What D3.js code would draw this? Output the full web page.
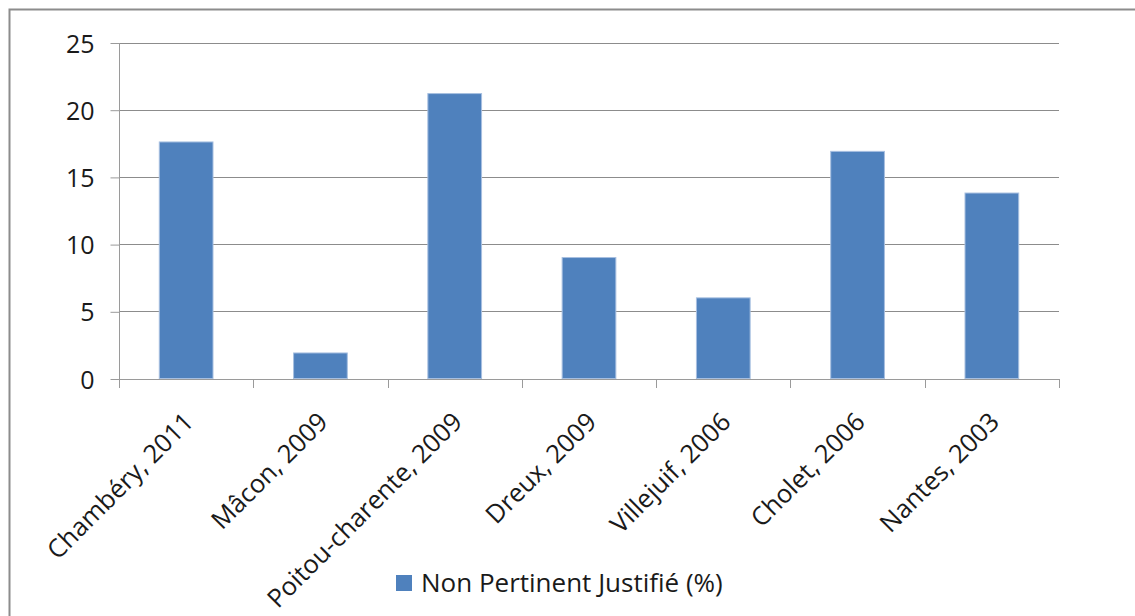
<!DOCTYPE html>
<html>
<head>
<meta charset="utf-8">
<script src="https://cdn.jsdelivr.net/npm/d3@7"></script>
<style>
  html, body { margin: 0; padding: 0; background: #fff; }
  svg { display: block; font-family: "Open Sans", Lato, sans-serif; }
</style>
</head>
<body>
<script>
// Survey sites and share of "non pertinent justifié" cases (%)
const categories = [
  "Chambéry, 2011",
  "Mâcon, 2009",
  "Poitou-charente, 2009",
  "Dreux, 2009",
  "Villejuif, 2006",
  "Cholet, 2006",
  "Nantes, 2003"
];
const values = [17.6, 1.9, 21.2, 9.0, 6.0, 16.9, 13.8];
const yTickValues = [0, 5, 10, 15, 20, 25];
const seriesName = "Non Pertinent Justifié (%)";

const W = 1135, H = 616;
const plot = { left: 119, right: 1059, top: 42.5, bottom: 378.5 };
const textColor = "#1a1a1a";

const svg = d3.select("body").append("svg")
  .attr("width", W).attr("height", H);

// chart frame
svg.append("rect")
  .attr("x", 9.5).attr("y", 9.5)
  .attr("width", W + 20).attr("height", H + 20)
  .attr("fill", "#fff")
  .attr("stroke", "#8c8c8c").attr("stroke-width", 2);

const x = d3.scaleBand()
  .domain(categories)
  .range([plot.left, plot.right])
  .paddingInner(0.6)
  .paddingOuter(0.3);

const y = d3.scaleLinear()
  .domain([0, 25])
  .range([plot.bottom, plot.top]);

// horizontal gridlines
svg.append("g")
  .selectAll("line")
  .data(yTickValues.filter(v => v > 0))
  .join("line")
  .attr("x1", plot.left).attr("x2", plot.right)
  .attr("y1", d => Math.round(y(d)) + 0.5)
  .attr("y2", d => Math.round(y(d)) + 0.5)
  .attr("stroke", "#8c8c8c").attr("stroke-width", 1);

// y axis
const yAxis = svg.append("g")
  .attr("transform", `translate(${plot.left + 0.5},0.5)`)
  .call(d3.axisLeft(y).tickValues(yTickValues).tickSize(9).tickPadding(16));
yAxis.select(".domain").attr("stroke", "#9a9a9a").attr("d", `M0,${plot.top}V${plot.bottom + 8}`);
yAxis.selectAll(".tick line").attr("stroke", "#9a9a9a");
yAxis.selectAll(".tick text")
  .attr("fill", textColor)
  .attr("dy", "0.36em")
  .style("font-size", "25px")
  .style("font-family", "'Open Sans', sans-serif");

// bars
svg.append("g")
  .selectAll("rect")
  .data(values)
  .join("rect")
  .attr("x", (d, i) => x(categories[i]))
  .attr("y", d => y(d))
  .attr("width", x.bandwidth())
  .attr("height", d => y(0) - y(d))
  .attr("fill", "#4f81bd")
  .attr("stroke", "#a7bfe0")
  .attr("stroke-width", 1);

// x axis line and category boundary ticks
const step = x.step();
const bounds = d3.range(categories.length + 1).map(i => plot.left + i * step);
const xAxisG = svg.append("g");
xAxisG.append("line")
  .attr("x1", plot.left).attr("x2", plot.right)
  .attr("y1", Math.round(y(0)) + 0.5).attr("y2", Math.round(y(0)) + 0.5)
  .attr("stroke", "#9a9a9a");
xAxisG.selectAll(".bt")
  .data(bounds)
  .join("line")
  .attr("class", "bt")
  .attr("x1", d => Math.round(d) + 0.5).attr("x2", d => Math.round(d) + 0.5)
  .attr("y1", Math.round(y(0))).attr("y2", Math.round(y(0)) + 9)
  .attr("stroke", "#9a9a9a");

// rotated category labels
svg.append("g")
  .selectAll("text")
  .data(categories)
  .join("text")
  .attr("transform", d => `translate(${x(d) + x.bandwidth() / 2 + 9},${y(0) + 45}) rotate(-45)`)
  .attr("text-anchor", "end")
  .attr("fill", textColor)
  .style("font-size", "25.5px")
  .text(d => d);

// legend
const legend = svg.append("g").attr("transform", "translate(396,575)");
legend.append("rect")
  .attr("width", 16).attr("height", 16)
  .attr("fill", "#4f81bd");
legend.append("text")
  .attr("x", 25).attr("y", 17)
  .attr("fill", textColor)
  .style("font-size", "26px")
  .text(seriesName);
</script>
</body>
</html>
